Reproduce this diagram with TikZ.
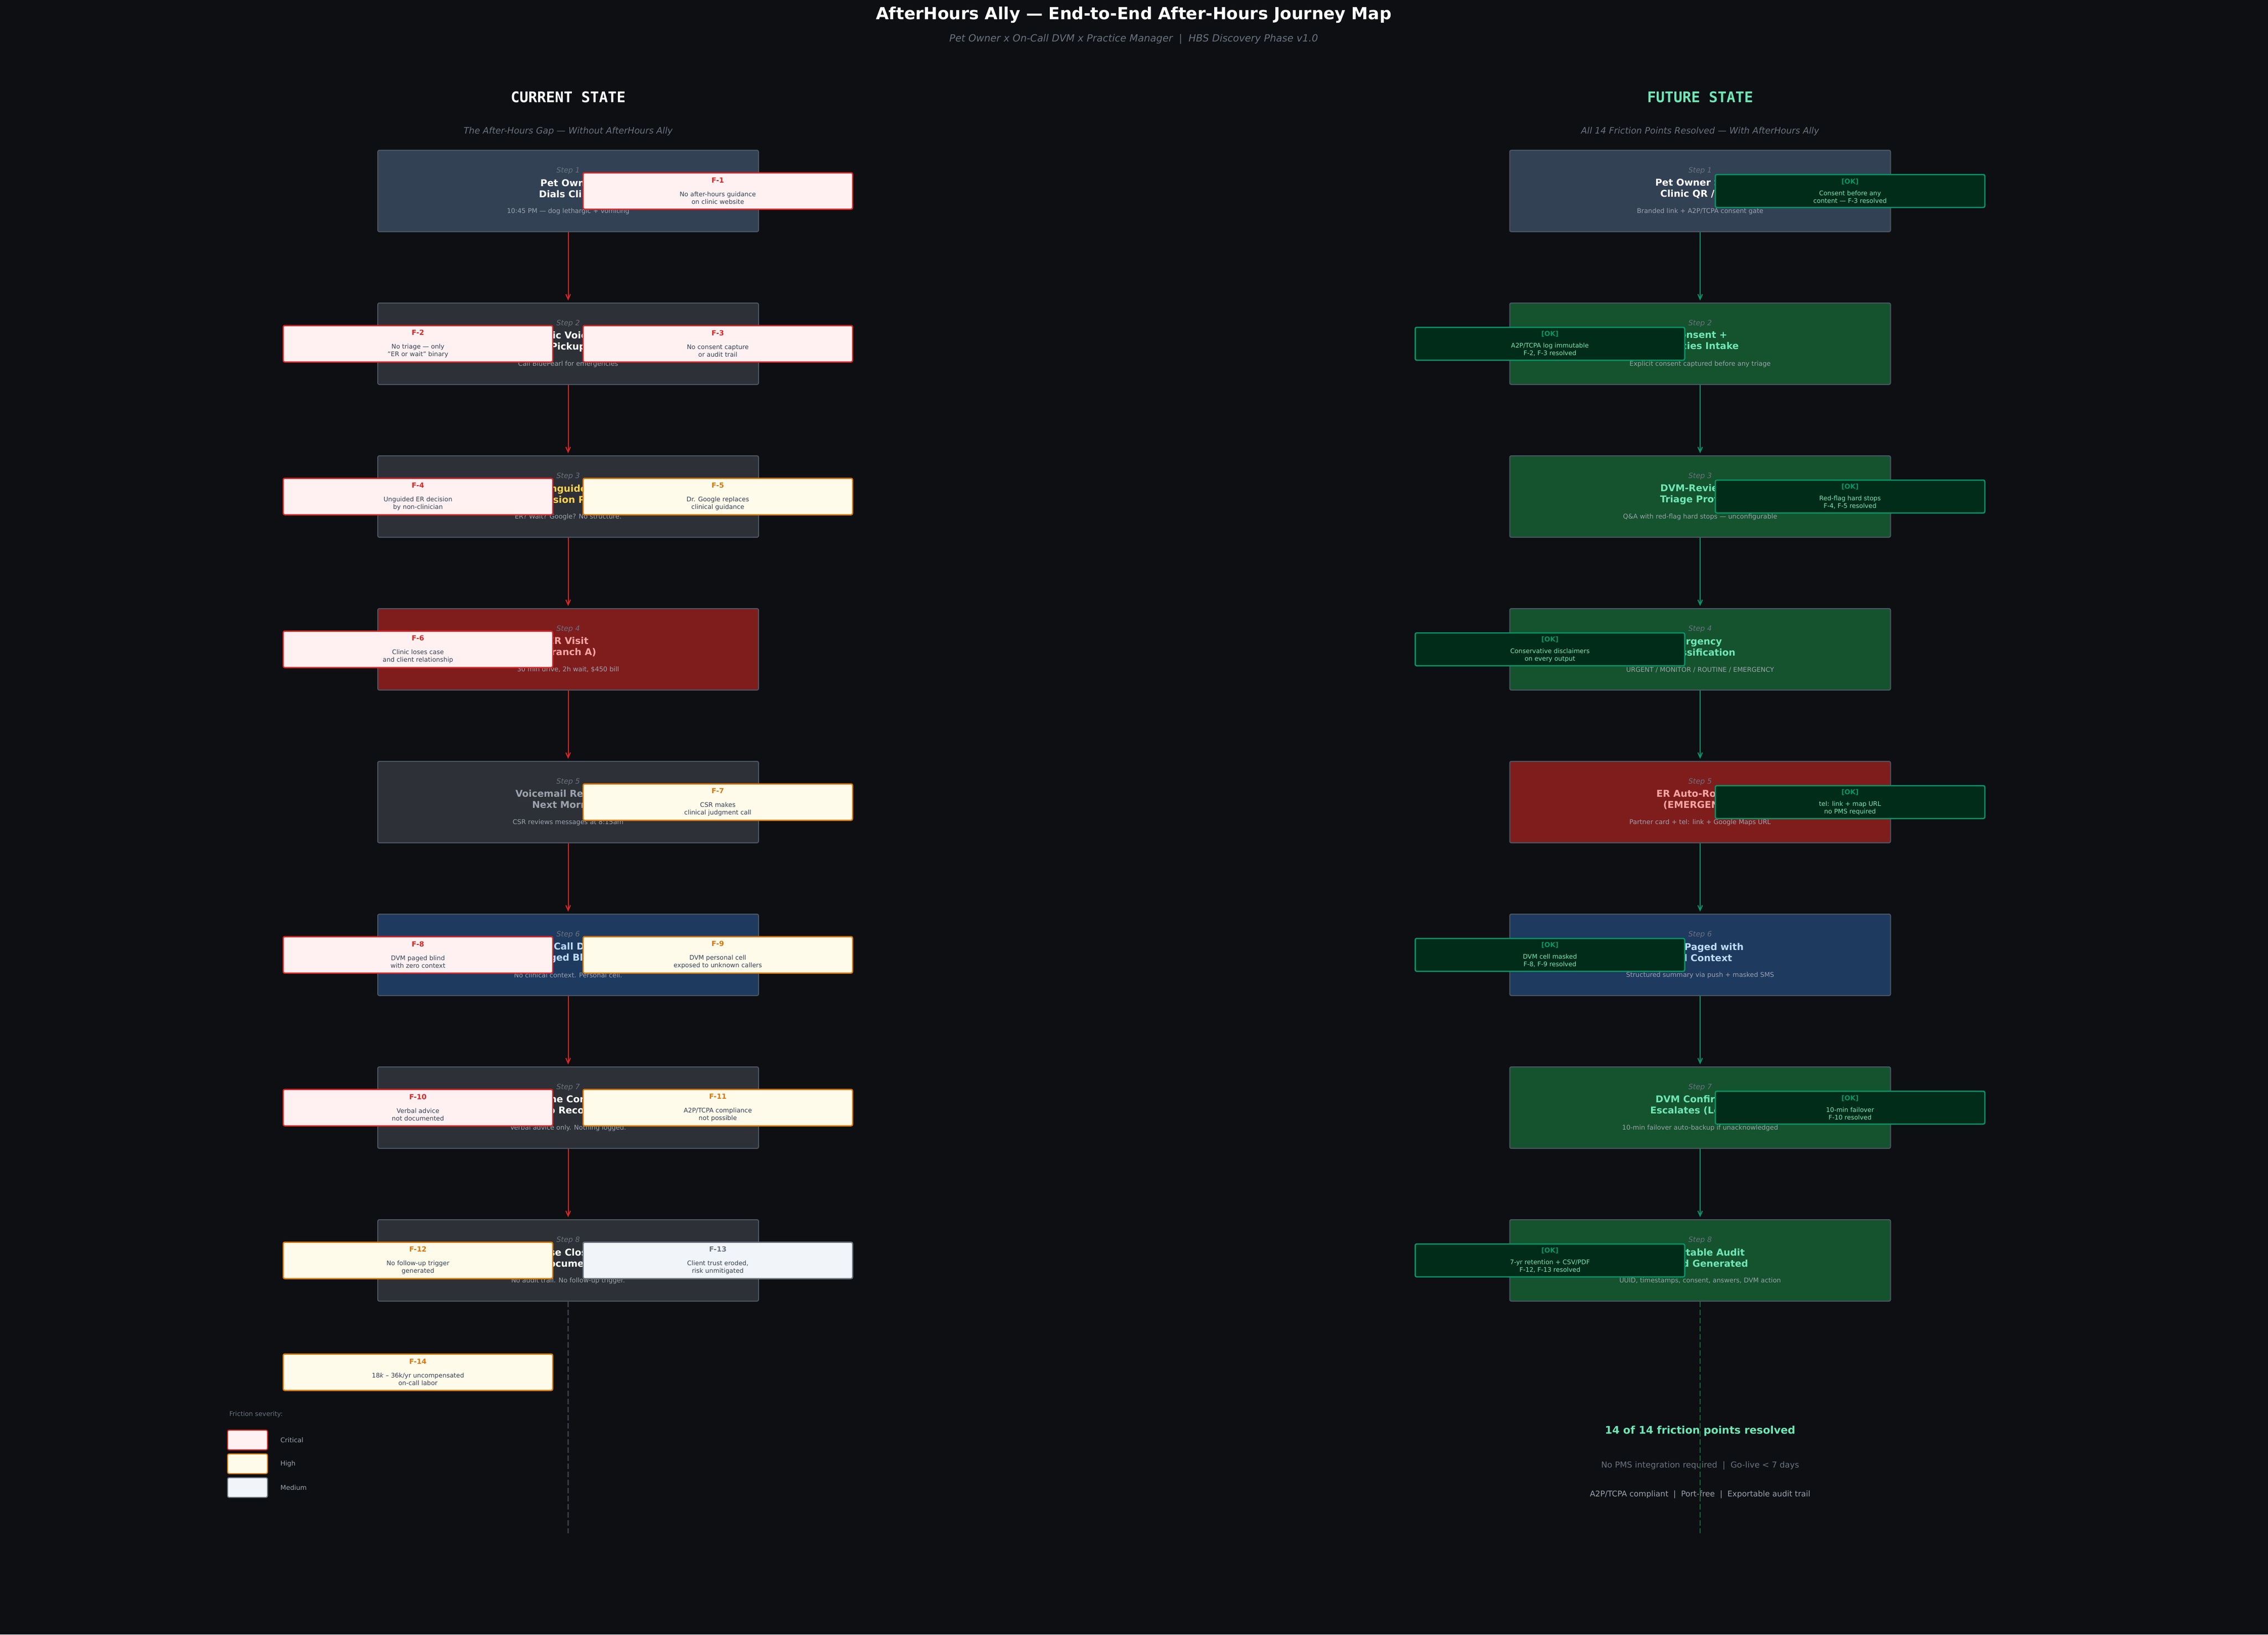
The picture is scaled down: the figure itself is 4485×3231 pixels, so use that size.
\documentclass[tikz,border=0pt]{standalone}
\usepackage{fontspec}
\setmainfont{DejaVu Sans}
\setmonofont{DejaVu Sans Mono}
\usepackage{tikz}
\usetikzlibrary{calc,positioning,arrows.meta}

\definecolor{bgdark}{HTML}{0D0F12}
\definecolor{boxgray}{HTML}{2D3036}
\definecolor{boxedge}{HTML}{4B5563}
\definecolor{tailgray}{HTML}{363A42}
\definecolor{slate}{HTML}{334155}
\definecolor{errred}{HTML}{7F1D1D}
\definecolor{navy}{HTML}{1E3A5F}
\definecolor{goodgreen}{HTML}{14532D}
\definecolor{labelgray}{HTML}{6B7280}
\definecolor{notegray}{HTML}{9CA3AF}
\definecolor{ttlyellow}{HTML}{FCD34D}
\definecolor{ttlpink}{HTML}{FCA5A5}
\definecolor{ttlblue}{HTML}{BFDBFE}
\definecolor{mint}{HTML}{6EE7B7}
\definecolor{critred}{HTML}{DC2626}
\definecolor{critfill}{HTML}{FFF1F2}
\definecolor{highamber}{HTML}{D97706}
\definecolor{highfill}{HTML}{FFFBEB}
\definecolor{medgray}{HTML}{6B7280}
\definecolor{medfill}{HTML}{F1F5F9}
\definecolor{bodytext}{HTML}{374151}
\definecolor{okfill}{HTML}{022C1A}
\definecolor{okedge}{HTML}{059669}
\definecolor{dashgreen}{HTML}{166534}

\newcommand{\ftag}[2]{{\fontsize{14}{15}\selectfont\bfseries\color{#1}#2}}
\newcommand{\oktag}{{\fontsize{13.3}{15}\selectfont\bfseries\color{okedge}[OK]}}

\begin{document}
\begin{tikzpicture}[x=1pt,y=-1pt]

	\tikzstyle{stepbox} = [rectangle, draw=boxedge, line width=2pt, rounded corners=3pt,
		minimum width=753pt, minimum height=161pt, fill=boxgray]
	\tikzstyle{steplabel} = [font=\fontsize{14.4}{16}\selectfont\itshape, text=labelgray]
	\tikzstyle{steptitle} = [font=\fontsize{18.6}{22}\selectfont\bfseries, text=white, align=center]
	\tikzstyle{stepnote} = [font=\fontsize{12.9}{15}\selectfont, text=notegray]
	\tikzstyle{fric} = [rectangle, line width=2.5pt, rounded corners=3pt, minimum width=533pt,
		minimum height=72pt, align=center, text=bodytext, font=\fontsize{12.5}{15}\selectfont]
	\tikzstyle{crit} = [fric, draw=critred, fill=critfill]
	\tikzstyle{high} = [fric, draw=highamber, fill=highfill]
	\tikzstyle{med} = [fric, draw=medgray, fill=medfill]
	\tikzstyle{okbox} = [fric, draw=okedge, fill=okfill, minimum height=65pt, text=mint]
	\tikzstyle{lineC} = [draw=critred, -{Straight Barb[length=10pt,width=9pt]}, line width=2pt, shorten >=4pt]
	\tikzstyle{lineF} = [draw=okedge, -{Straight Barb[length=10pt,width=9pt]}, line width=2pt, shorten >=4pt]
	\tikzstyle{tail} = [line width=2.7pt, dash pattern=on 10.5pt off 5.5pt]
	\tikzstyle{plaintext} = [draw=none, fill=none]

    \useasboundingbox (0,0) rectangle (4485,3231);
    \fill [bgdark] (0,0) rectangle (4485,3231);

    % Headings
    \node [plaintext, font=\fontsize{33}{36}\selectfont\bfseries, text=white] at (2242, 30) (maintitle) {AfterHours Ally — End-to-End After-Hours Journey Map};
    \node [plaintext, font=\fontsize{19.5}{22}\selectfont\itshape, text=labelgray] at (2242, 77) (subtitle) {Pet Owner x On-Call DVM x Practice Manager~~|~~HBS Discovery Phase v1.0};
    \node [plaintext, font=\fontsize{29}{32}\selectfont\ttfamily\bfseries, text=white] at (1123.5, 192) (curhead) {CURRENT STATE};
    \node [plaintext, font=\fontsize{17.5}{20}\selectfont\itshape, text=labelgray] at (1123.5, 260) (cursub) {The After-Hours Gap — Without AfterHours Ally};
    \node [plaintext, font=\fontsize{29}{32}\selectfont\ttfamily\bfseries, text=mint] at (3362, 192) (futhead) {FUTURE STATE};
    \node [plaintext, font=\fontsize{17.5}{20}\selectfont\itshape, text=labelgray] at (3362, 260) (futsub) {All 14 Friction Points Resolved — With AfterHours Ally};

    % Current state steps
    \node [stepbox, fill=slate] at (1123.5, 377.5) (cur1) {};
    \node [steplabel] at ($(cur1.north)+(0,42)$) (cur1l) {Step 1};
    \node [steptitle] at ($(cur1.north)+(0,77)$) (cur1t) {Pet Owner\\Dials Clinic};
    \node [stepnote] at ($(cur1.north)+(0,122)$) (cur1n) {10:45 PM — dog lethargic + vomiting};

    \node [stepbox] at (1123.5, 679.5) (cur2) {};
    \node [steplabel] at ($(cur2.north)+(0,42)$) (cur2l) {Step 2};
    \node [steptitle] at ($(cur2.north)+(0,77)$) (cur2t) {Generic Voicemail\\Pickup};
    \node [stepnote] at ($(cur2.north)+(0,122)$) (cur2n) {"Call BluePearl for emergencies"};

    \node [stepbox] at (1123.5, 981.5) (cur3) {};
    \node [steplabel] at ($(cur3.north)+(0,42)$) (cur3l) {Step 3};
    \node [steptitle, text=ttlyellow] at ($(cur3.north)+(0,77)$) (cur3t) {Unguided\\Decision Point};
    \node [stepnote] at ($(cur3.north)+(0,122)$) (cur3n) {ER? Wait? Google? No structure.};

    \node [stepbox, fill=errred] at (1123.5, 1283.5) (cur4) {};
    \node [steplabel] at ($(cur4.north)+(0,42)$) (cur4l) {Step 4};
    \node [steptitle, text=ttlpink] at ($(cur4.north)+(0,77)$) (cur4t) {ER Visit\\(Branch A)};
    \node [stepnote] at ($(cur4.north)+(0,122)$) (cur4n) {30 min drive, 2h wait, \$450 bill};

    \node [stepbox] at (1123.5, 1585.5) (cur5) {};
    \node [steplabel] at ($(cur5.north)+(0,42)$) (cur5l) {Step 5};
    \node [steptitle, text=notegray] at ($(cur5.north)+(0,77)$) (cur5t) {Voicemail Reviewed\\Next Morning};
    \node [stepnote] at ($(cur5.north)+(0,122)$) (cur5n) {CSR reviews messages at 8:15am};

    \node [stepbox, fill=navy] at (1123.5, 1887.5) (cur6) {};
    \node [steplabel] at ($(cur6.north)+(0,42)$) (cur6l) {Step 6};
    \node [steptitle, text=ttlblue] at ($(cur6.north)+(0,77)$) (cur6t) {On-Call DVM\\Paged Blind};
    \node [stepnote] at ($(cur6.north)+(0,122)$) (cur6n) {No clinical context. Personal cell.};

    \node [stepbox] at (1123.5, 2189.5) (cur7) {};
    \node [steplabel] at ($(cur7.north)+(0,42)$) (cur7l) {Step 7};
    \node [steptitle] at ($(cur7.north)+(0,77)$) (cur7t) {Phone Consult\\(No Record)};
    \node [stepnote] at ($(cur7.north)+(0,122)$) (cur7n) {Verbal advice only. Nothing logged.};

    \node [stepbox] at (1123.5, 2491.5) (cur8) {};
    \node [steplabel] at ($(cur8.north)+(0,42)$) (cur8l) {Step 8};
    \node [steptitle] at ($(cur8.north)+(0,77)$) (cur8t) {Case Closed\\Undocumented};
    \node [stepnote] at ($(cur8.north)+(0,122)$) (cur8n) {No audit trail. No follow-up trigger.};

    % Friction points
    \node [crit] at (1419.5, 377.5) (f1) {\ftag{critred}{F-1}\\[12.5pt]No after-hours guidance\\on clinic website};
    \node [crit] at (826.5, 679.5) (f2) {\ftag{critred}{F-2}\\[12.5pt]No triage — only\\"ER or wait" binary};
    \node [crit] at (1419.5, 679.5) (f3) {\ftag{critred}{F-3}\\[12.5pt]No consent capture\\or audit trail};
    \node [crit] at (826.5, 981.5) (f4) {\ftag{critred}{F-4}\\[12.5pt]Unguided ER decision\\by non-clinician};
    \node [high] at (1419.5, 981.5) (f5) {\ftag{highamber}{F-5}\\[12.5pt]Dr. Google replaces\\clinical guidance};
    \node [crit] at (826.5, 1283.5) (f6) {\ftag{critred}{F-6}\\[12.5pt]Clinic loses case\\and client relationship};
    \node [high] at (1419.5, 1585.5) (f7) {\ftag{highamber}{F-7}\\[12.5pt]CSR makes\\clinical judgment call};
    \node [crit] at (826.5, 1887.5) (f8) {\ftag{critred}{F-8}\\[12.5pt]DVM paged blind\\with zero context};
    \node [high] at (1419.5, 1887.5) (f9) {\ftag{highamber}{F-9}\\[12.5pt]DVM personal cell\\exposed to unknown callers};
    \node [crit] at (826.5, 2189.5) (f10) {\ftag{critred}{F-10}\\[12.5pt]Verbal advice\\not documented};
    \node [high] at (1419.5, 2189.5) (f11) {\ftag{highamber}{F-11}\\[12.5pt]A2P/TCPA compliance\\not possible};
    \node [high] at (826.5, 2491.5) (f12) {\ftag{highamber}{F-12}\\[12.5pt]No follow-up trigger\\generated};
    \node [med] at (1419.5, 2491.5) (f13) {\ftag{medgray}{F-13}\\[12.5pt]Client trust eroded,\\risk unmitigated};
    \node [high] at (826.5, 2712.5) (f14) {\ftag{highamber}{F-14}\\[12.5pt]18\textit{k} – 36k/yr uncompensated\\on-call labor};

    % Future state steps
    \node [stepbox, fill=slate] at (3362, 377.5) (fut1) {};
    \node [steplabel] at ($(fut1.north)+(0,42)$) (fut1l) {Step 1};
    \node [steptitle] at ($(fut1.north)+(0,77)$) (fut1t) {Pet Owner Scans\\Clinic QR / Link};
    \node [stepnote] at ($(fut1.north)+(0,122)$) (fut1n) {Branded link + A2P/TCPA consent gate};

    \node [stepbox, fill=goodgreen] at (3362, 679.5) (fut2) {};
    \node [steplabel] at ($(fut2.north)+(0,42)$) (fut2l) {Step 2};
    \node [steptitle, text=mint] at ($(fut2.north)+(0,77)$) (fut2t) {Consent +\\Species Intake};
    \node [stepnote] at ($(fut2.north)+(0,122)$) (fut2n) {Explicit consent captured before any triage};

    \node [stepbox, fill=goodgreen] at (3362, 981.5) (fut3) {};
    \node [steplabel] at ($(fut3.north)+(0,42)$) (fut3l) {Step 3};
    \node [steptitle, text=mint] at ($(fut3.north)+(0,77)$) (fut3t) {DVM-Reviewed\\Triage Protocol};
    \node [stepnote] at ($(fut3.north)+(0,122)$) (fut3n) {Q\&A with red-flag hard stops — unconfigurable};

    \node [stepbox, fill=goodgreen] at (3362, 1283.5) (fut4) {};
    \node [steplabel] at ($(fut4.north)+(0,42)$) (fut4l) {Step 4};
    \node [steptitle, text=mint] at ($(fut4.north)+(0,77)$) (fut4t) {Urgency\\Classification};
    \node [stepnote] at ($(fut4.north)+(0,122)$) (fut4n) {URGENT / MONITOR / ROUTINE / EMERGENCY};

    \node [stepbox, fill=errred] at (3362, 1585.5) (fut5) {};
    \node [steplabel] at ($(fut5.north)+(0,42)$) (fut5l) {Step 5};
    \node [steptitle, text=ttlpink] at ($(fut5.north)+(0,77)$) (fut5t) {ER Auto-Routing\\(EMERGENCY)};
    \node [stepnote] at ($(fut5.north)+(0,122)$) (fut5n) {Partner card + tel: link + Google Maps URL};

    \node [stepbox, fill=navy] at (3362, 1887.5) (fut6) {};
    \node [steplabel] at ($(fut6.north)+(0,42)$) (fut6l) {Step 6};
    \node [steptitle, text=ttlblue] at ($(fut6.north)+(0,77)$) (fut6t) {DVM Paged with\\Full Context};
    \node [stepnote] at ($(fut6.north)+(0,122)$) (fut6n) {Structured summary via push + masked SMS};

    \node [stepbox, fill=goodgreen] at (3362, 2189.5) (fut7) {};
    \node [steplabel] at ($(fut7.north)+(0,42)$) (fut7l) {Step 7};
    \node [steptitle, text=mint] at ($(fut7.north)+(0,77)$) (fut7t) {DVM Confirms or\\Escalates (Level 2)};
    \node [stepnote] at ($(fut7.north)+(0,122)$) (fut7n) {10-min failover auto-backup if unacknowledged};

    \node [stepbox, fill=goodgreen] at (3362, 2491.5) (fut8) {};
    \node [steplabel] at ($(fut8.north)+(0,42)$) (fut8l) {Step 8};
    \node [steptitle, text=mint] at ($(fut8.north)+(0,77)$) (fut8t) {Exportable Audit\\Record Generated};
    \node [stepnote] at ($(fut8.north)+(0,122)$) (fut8n) {UUID, timestamps, consent, answers, DVM action};

    % Resolved badges
    \node [okbox] at (3658.5, 377.5) (ok1) {\oktag\\[8pt]Consent before any\\content — F-3 resolved};
    \node [okbox] at (3065, 679.5) (ok2) {\oktag\\[8pt]A2P/TCPA log immutable\\F-2, F-3 resolved};
    \node [okbox] at (3658.5, 981.5) (ok3) {\oktag\\[8pt]Red-flag hard stops\\F-4, F-5 resolved};
    \node [okbox] at (3065, 1283.5) (ok4) {\oktag\\[8pt]Conservative disclaimers\\on every output};
    \node [okbox] at (3658.5, 1585.5) (ok5) {\oktag\\[8pt]tel: link + map URL\\no PMS required};
    \node [okbox] at (3065, 1887.5) (ok6) {\oktag\\[8pt]DVM cell masked\\F-8, F-9 resolved};
    \node [okbox] at (3658.5, 2189.5) (ok7) {\oktag\\[8pt]10-min failover\\F-10 resolved};
    \node [okbox] at (3065, 2491.5) (ok8) {\oktag\\[8pt]7-yr retention + CSV/PDF\\F-12, F-13 resolved};

    % Legend
    \node [plaintext, anchor=west, font=\fontsize{12.8}{15}\selectfont, text=labelgray] at (450, 2796) (legtitle) {Friction severity:};
    \node [crit, minimum width=79pt, minimum height=39pt, line width=2pt] at (489.5, 2846.5) (legcrit) {};
    \node [plaintext, anchor=west, font=\fontsize{13}{15}\selectfont, text=notegray] at (551, 2846.5) (legcritl) {Critical};
    \node [high, minimum width=79pt, minimum height=39pt, line width=2pt] at (489.5, 2893.5) (leghigh) {};
    \node [plaintext, anchor=west, font=\fontsize{13}{15}\selectfont, text=notegray] at (551, 2893.5) (leghighl) {High};
    \node [med, minimum width=79pt, minimum height=39pt, line width=2pt] at (489.5, 2940.5) (legmed) {};
    \node [plaintext, anchor=west, font=\fontsize{13}{15}\selectfont, text=notegray] at (551, 2940.5) (legmedl) {Medium};

    % Summary
    \node [plaintext, font=\fontsize{20.8}{24}\selectfont\bfseries, text=mint] at (3362, 2829) (sum1) {14 of 14 friction points resolved};
    \node [plaintext, font=\fontsize{16.3}{19}\selectfont, text=labelgray] at (3362, 2897) (sum2) {No PMS integration required~~|~~Go-live < 7 days};
    \node [plaintext, font=\fontsize{15.5}{18}\selectfont, text=notegray] at (3362, 2954) (sum3) {A2P/TCPA compliant~~|~~Port-free~~|~~Exportable audit trail};

    % Draw edges
    \path [lineC] (cur1.south) -- (cur2.north);
    \path [lineC] (cur2.south) -- (cur3.north);
    \path [lineC] (cur3.south) -- (cur4.north);
    \path [lineC] (cur4.south) -- (cur5.north);
    \path [lineC] (cur5.south) -- (cur6.north);
    \path [lineC] (cur6.south) -- (cur7.north);
    \path [lineC] (cur7.south) -- (cur8.north);
    \path [lineF] (fut1.south) -- (fut2.north);
    \path [lineF] (fut2.south) -- (fut3.north);
    \path [lineF] (fut3.south) -- (fut4.north);
    \path [lineF] (fut4.south) -- (fut5.north);
    \path [lineF] (fut5.south) -- (fut6.north);
    \path [lineF] (fut6.south) -- (fut7.north);
    \path [lineF] (fut7.south) -- (fut8.north);

    \coordinate (curend) at (1123.5, 3031);
    \coordinate (futend) at (3362, 3031);
    \draw [tail, tailgray] (cur8.south) -- (curend);
    \draw [tail, dashgreen] (fut8.south) -- (futend);
\end{tikzpicture}
\end{document}
